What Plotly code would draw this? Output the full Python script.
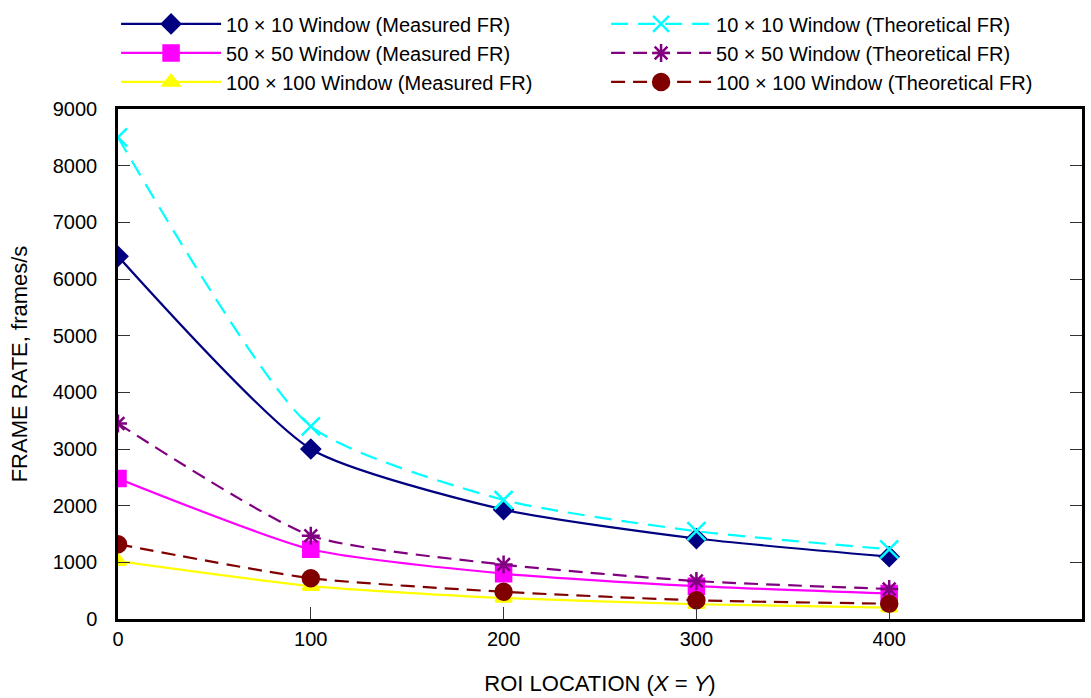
import plotly.graph_objects as go

roi = [0, 100, 200, 300, 400]

meas_10 = [6400, 3000, 1930, 1420, 1100]
theo_10 = [8500, 3400, 2100, 1550, 1230]
meas_50 = [2480, 1230, 800, 580, 450]
theo_50 = [3450, 1470, 960, 670, 530]
meas_100 = [1020, 580, 370, 260, 200]
theo_100 = [1320, 720, 480, 330, 270]

x_ticks = [0, 100, 200, 300, 400, 500]
y_ticks = [0, 1000, 2000, 3000, 4000, 5000, 6000, 7000, 8000, 9000]

series = [
    ("10 \u00d7 10 Window (Measured FR)", meas_10, "#000080", "solid", "diamond", 14),
    ("10 \u00d7 10 Window (Theoretical FR)", theo_10, "#00FFFF", "17px,10px", "x-thin-open", 18),
    ("50 \u00d7 50 Window (Measured FR)", meas_50, "#FF00FF", "solid", "square", 15),
    ("50 \u00d7 50 Window (Theoretical FR)", theo_50, "#800080", "14px,8px", "asterisk-open", 15),
    ("100 \u00d7 100 Window (Measured FR)", meas_100, "#FFFF00", "solid", "triangle-up", 14),
    ("100 \u00d7 100 Window (Theoretical FR)", theo_100, "#800000", "14px,8px", "circle", 16),
]

fig = go.Figure()
for name, vals, color, dash, sym, size in series:
    fig.add_trace(go.Scatter(
        x=roi, y=vals, name=name, mode="lines+markers",
        line=dict(color=color, width=2.2, dash=dash, shape="spline", smoothing=0.6),
        marker=dict(symbol=sym, size=size, color=color,
                    line=dict(color=color, width=2.5)),
    ))

family = "Liberation Sans, Arial, Helvetica, sans-serif"
tick_font = dict(family=family, size=20, color="black")

# leading non-breaking spaces lift the rotated title above the axis centre
y_title = "\u00a0" * 15 + "FRAME RATE, frames/s"

fig.update_layout(
    width=1091, height=698,
    margin=dict(l=118, r=9, t=109, b=79, autoexpand=False),
    plot_bgcolor="white", paper_bgcolor="white",
    font=dict(family=family, size=18, color="black"),
    showlegend=True,
    legend=dict(
        orientation="h", x=-0.002, y=1.205, xanchor="left", yanchor="top",
        xref="paper", yref="paper",
        entrywidth=375, entrywidthmode="pixels",
        font=dict(family=family, size=20, color="black"), itemwidth=100,
        bgcolor="rgba(0,0,0,0)",
    ),
    xaxis=dict(
        range=[0, 500], tickvals=x_ticks, ticks="inside", ticklen=12,
        tickwidth=1, tickcolor="#333", showgrid=False, zeroline=False,
        showline=True, linecolor="black", linewidth=2.5, mirror=True,
        tickfont=tick_font,
        title=dict(text="ROI LOCATION (<i>X</i> = <i>Y</i>)", standoff=27),
    ),
    yaxis=dict(
        range=[0, 9000], tickvals=y_ticks, ticks="inside", ticklen=12,
        tickwidth=1, tickcolor="#333", showgrid=False, zeroline=False,
        showline=True, linecolor="black", linewidth=2.5, mirror="ticks",
        ticklabelstandoff=14, tickfont=tick_font,
        title=dict(text=y_title, standoff=20),
    ),
)

fig.write_html("out.html")
